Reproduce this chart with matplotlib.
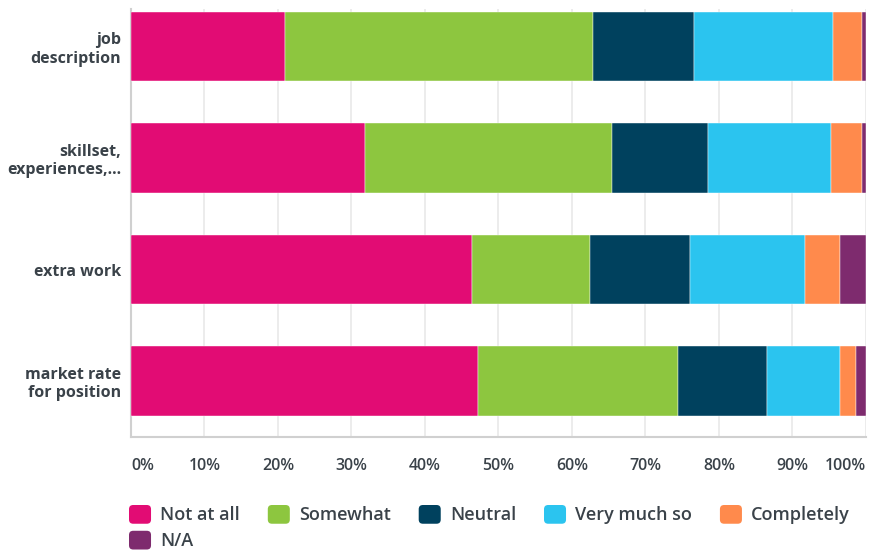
import matplotlib.pyplot as plt
import numpy as np
from matplotlib.patches import Patch, FancyBboxPatch
from matplotlib.legend_handler import HandlerPatch

# Data (percent of respondents)
questions = ["job\ndescription", "skillset,\nexperiences,...", "extra work", "market rate\nfor position"]
answers = ["Not at all", "Somewhat", "Neutral", "Very much so", "Completely", "N/A"]
not_at_all = [21.0, 31.9, 46.4, 47.2]
somewhat = [41.8, 33.5, 16.0, 27.2]
neutral = [13.8, 13.1, 13.6, 12.1]
very_much = [18.9, 16.8, 15.7, 10.0]
completely = [4.0, 4.2, 4.8, 2.2]
n_a = [0.5, 0.5, 3.5, 1.3]
x_ticks = [0, 10, 20, 30, 40, 50, 60, 70, 80, 90, 100]

colors = ["#E20C74", "#8DC63F", "#00415E", "#2BC4EF", "#FF8A4C", "#7E2B6E"]
text_color = "#3a4249"

plt.rcParams['font.family'] = ['Open Sans', 'DejaVu Sans']


class RoundHandler(HandlerPatch):
    # rounded squares in the legend
    def create_artists(self, legend, orig_handle, xdescent, ydescent,
                       width, height, fontsize, trans):
        p = FancyBboxPatch((-xdescent, -ydescent), width, height,
                           boxstyle="round,pad=0,rounding_size=3",
                           facecolor=orig_handle.get_facecolor(),
                           edgecolor="none", transform=trans)
        return [p]


fig = plt.figure(figsize=(8.78, 5.53), dpi=100)
ax = fig.add_axes([131 / 878, 1 - 437 / 553, 735 / 878, 428 / 553])

series = [not_at_all, somewhat, neutral, very_much, completely, n_a]
y = np.arange(len(questions))
left = np.zeros(len(questions))
for vals, col, name in zip(series, colors, answers):
    ax.barh(y, vals, left=left, height=0.62, color=col, label=name,
            edgecolor="white", linewidth=0.3, zorder=3)
    left += np.array(vals)

ax.set_xlim(0, 100)
ax.set_ylim(3.502, -0.336)

ax.set_xticks(x_ticks)
ax.set_xticklabels([f"{t}%" for t in x_ticks], fontweight="semibold")
labels = ax.get_xticklabels()
labels[0].set_ha("left")
labels[-1].set_ha("right")
ax.set_yticks(y)
ax.set_yticklabels(questions, fontweight="bold", linespacing=1.2)

ax.tick_params(axis="x", length=0, pad=15, labelsize=11.5, labelcolor=text_color)
ax.tick_params(axis="y", length=0, pad=7, labelsize=11.5, labelcolor=text_color)

ax.grid(axis="x", color="#ebebeb", linewidth=1.3, zorder=0)
ax.spines["top"].set_visible(False)
ax.spines["right"].set_visible(False)
ax.spines["left"].set_color("#d0d0d0")
ax.spines["bottom"].set_color("#d0d0d0")
ax.spines["left"].set_linewidth(1.5)
ax.spines["bottom"].set_linewidth(1.5)

# legend, reordered so N/A lands on the second row under "Not at all"
order = [0, 5, 1, 2, 3, 4]
handles = [Patch(facecolor=colors[i]) for i in order]
names = [answers[i] for i in order]
leg = fig.legend(handles, names, ncol=5, loc="upper left",
                 bbox_to_anchor=(129 / 878, 1 - 505 / 553), frameon=False,
                 prop={"size": 13, "weight": "semibold"}, labelcolor=text_color,
                 handlelength=1.22, handleheight=1.22, handletextpad=0.5,
                 columnspacing=1.55, labelspacing=0.35, borderpad=0, borderaxespad=0,
                 handler_map={Patch: RoundHandler()})

plt.savefig("out.png", dpi=100)
